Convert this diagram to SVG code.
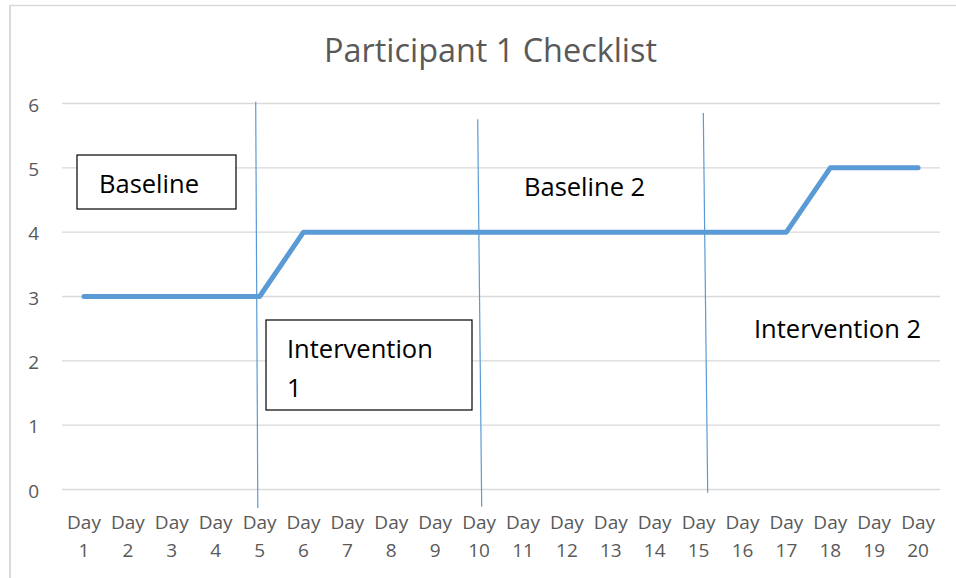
<svg xmlns="http://www.w3.org/2000/svg" width="956" height="578" viewBox="0 0 956 578">
<style>
.grid{stroke:#D9D9D9;stroke-width:1.3;fill:none}
.ax{font-family:"Open Sans","Liberation Sans",sans-serif;font-size:19px;fill:#595959}
.lbl{font-family:"Open Sans","Liberation Sans",sans-serif;font-size:25.5px;fill:#000}
.box{fill:#fff;stroke:#000;stroke-width:1.2}
.phase{stroke:#5B9BD5;stroke-width:1.2;fill:none}
.data{stroke:#5B9BD5;stroke-width:5;fill:none;stroke-linecap:round;stroke-linejoin:round}
</style>
<rect width="956" height="578" fill="#fff"/>
<g id="frame">
<line x1="9" y1="5.5" x2="956" y2="5.5" stroke="#D9D9D9" stroke-width="1.5"/>
<line x1="10" y1="5" x2="10" y2="578" stroke="#D9D9D9" stroke-width="2"/>
</g>
<text id="title" x="490.5" y="62" text-anchor="middle" font-family="'Open Sans','Liberation Sans',sans-serif" font-size="32" fill="#595959" textLength="333" lengthAdjust="spacingAndGlyphs">Participant 1 Checklist</text>
<g id="gridlines">
<line class="grid" x1="62" y1="103.5" x2="940" y2="103.5"/>
<line class="grid" x1="62" y1="167.8" x2="940" y2="167.8"/>
<line class="grid" x1="62" y1="232.2" x2="940" y2="232.2"/>
<line class="grid" x1="62" y1="296.5" x2="940" y2="296.5"/>
<line class="grid" x1="62" y1="360.8" x2="940" y2="360.8"/>
<line class="grid" x1="62" y1="425.2" x2="940" y2="425.2"/>
<line class="grid" x1="62" y1="489.5" x2="940" y2="489.5"/>
</g>
<g id="y-axis" class="ax" text-anchor="end">
<text x="39" y="111.5">6</text>
<text x="39" y="175.8">5</text>
<text x="39" y="240.2">4</text>
<text x="39" y="304.5">3</text>
<text x="39" y="368.8">2</text>
<text x="39" y="433.2">1</text>
<text x="39" y="497.5">0</text>
</g>
<g id="x-axis" class="ax" text-anchor="middle">
<text x="84" y="529">Day</text><text x="84" y="557">1</text>
<text x="127.9" y="529">Day</text><text x="127.9" y="557">2</text>
<text x="171.8" y="529">Day</text><text x="171.8" y="557">3</text>
<text x="215.7" y="529">Day</text><text x="215.7" y="557">4</text>
<text x="259.6" y="529">Day</text><text x="259.6" y="557">5</text>
<text x="303.5" y="529">Day</text><text x="303.5" y="557">6</text>
<text x="347.4" y="529">Day</text><text x="347.4" y="557">7</text>
<text x="391.3" y="529">Day</text><text x="391.3" y="557">8</text>
<text x="435.2" y="529">Day</text><text x="435.2" y="557">9</text>
<text x="479.1" y="529">Day</text><text x="479.1" y="557">10</text>
<text x="523" y="529">Day</text><text x="523" y="557">11</text>
<text x="566.9" y="529">Day</text><text x="566.9" y="557">12</text>
<text x="610.8" y="529">Day</text><text x="610.8" y="557">13</text>
<text x="654.7" y="529">Day</text><text x="654.7" y="557">14</text>
<text x="698.6" y="529">Day</text><text x="698.6" y="557">15</text>
<text x="742.5" y="529">Day</text><text x="742.5" y="557">16</text>
<text x="786.4" y="529">Day</text><text x="786.4" y="557">17</text>
<text x="830.3" y="529">Day</text><text x="830.3" y="557">18</text>
<text x="874.2" y="529">Day</text><text x="874.2" y="557">19</text>
<text x="918.1" y="529">Day</text><text x="918.1" y="557">20</text>
</g>
<g id="series">
<polyline class="data" points="84,296.5 127.9,296.5 171.8,296.5 215.7,296.5 259.6,296.5 303.5,232.2 347.4,232.2 391.3,232.2 435.2,232.2 479.1,232.2 523,232.2 566.9,232.2 610.8,232.2 654.7,232.2 698.6,232.2 742.5,232.2 786.4,232.2 830.3,167.8 874.2,167.8 918.1,167.8"/>
</g>
<g id="baseline">
<rect class="box" x="77" y="155" width="159" height="54"/>
<text class="lbl" x="99" y="193">Baseline</text>
</g>
<g id="intervention1">
<rect class="box" x="266" y="320" width="206" height="90"/>
<text class="lbl" x="287" y="358">Intervention</text>
<text class="lbl" x="287" y="397">1</text>
</g>
<g id="baseline2">
<text class="lbl" x="524" y="196">Baseline 2</text>
</g>
<g id="intervention2">
<text class="lbl" x="754" y="338">Intervention 2</text>
</g>
<g id="connectors">
<line class="phase" x1="255.7" y1="101.7" x2="257.8" y2="508"/>
<line class="phase" x1="477.7" y1="119.3" x2="481.7" y2="506.7"/>
<line class="phase" x1="703.3" y1="113" x2="707.7" y2="492.7"/>
</g>
</svg>
